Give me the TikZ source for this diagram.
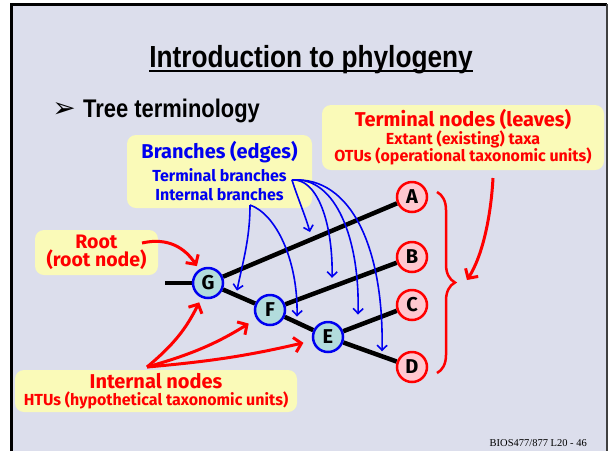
\documentclass[tikz,border=0pt]{standalone}
\usepackage{fontspec}
\setmainfont{Fira Sans}
\newfontfamily\condfont[FakeStretch=0.86]{Liberation Sans}
\newfontfamily\footfont{Liberation Serif}
\newfontfamily\symfont{DejaVu Sans}
\usetikzlibrary{arrows.meta, positioning, calc, backgrounds, decorations.pathreplacing}
\definecolor{SlideLavender}{HTML}{DCDEEC}
\definecolor{NoteYellow}{HTML}{FAFAB8}
\definecolor{NoteRed}{HTML}{FF0000}
\definecolor{NoteBlue}{HTML}{0000F0}
\definecolor{LeafPink}{HTML}{FFC8D0}
\definecolor{HtuTeal}{HTML}{B2DCDC}
\newcommand{\bignote}{\fontsize{20}{20}\selectfont}
\newcommand{\tightnote}{\lineskiplimit-20pt\relax}
\tikzset{
    % Boxes and texts
    notebox/.style={
        rectangle,
        rounded corners=9pt,
        fill=NoteYellow,
        draw=none,
        inner sep=0pt,
        align=center
    },
    rednote/.style={notebox, text=NoteRed},
    bluenote/.style={notebox, text=NoteBlue},
    % Tree nodes
    leafnode/.style={
        circle,
        draw=NoteRed,
        fill=LeafPink,
        line width=2.5pt,
        minimum size=30pt,
        inner sep=0pt,
        font=\bfseries\fontsize{20}{20}\selectfont
    },
    htunode/.style={
        circle,
        draw=NoteBlue,
        fill=HtuTeal,
        line width=2.5pt,
        minimum size=30pt,
        inner sep=0pt,
        font=\bfseries\fontsize{20}{20}\selectfont
    },
    % Lines and arrows
    treeedge/.style={line width=4.5pt, black},
    redarrow/.style={
        -{Straight Barb[length=7pt,width=15pt]},
        NoteRed,
        line width=3pt
    },
    bluearrow/.style={
        -{Straight Barb[length=5pt,width=10pt]},
        NoteBlue,
        line width=1.6pt
    },
    leafbrace/.style={
        decorate,
        decoration={brace, amplitude=18pt},
        NoteRed,
        line width=2.5pt
    }
}
\begin{document}
\begin{tikzpicture}[x=1pt, y=-1pt]
\useasboundingbox (0,0) rectangle (610,451);

% Title and heading
\node[anchor=base, inner sep=0pt, font=\condfont\bfseries\fontsize{30.5}{30.5}\selectfont] (title) at (311,67) {Introduction to phylogeny};
\draw[line width=2pt] ([yshift=-4pt]title.base west) -- ([yshift=-4pt]title.base east);
\node[anchor=base west, inner sep=0pt, font=\condfont\bfseries\fontsize{25.5}{25.5}\selectfont] (heading) at (83,117) {Tree terminology};
\node[left=7pt of heading, inner sep=0pt, font=\symfont\fontsize{28}{28}\selectfont] (bullet) {➢};

% Tree
\node[htunode] (G) at (208,283) {G};
\node[htunode] (F) at (270,310) {F};
\node[htunode] (E) at (328,337) {E};
\node[leafnode] (A) at (412,197) {A};
\node[leafnode] (B) at (412,257) {B};
\node[leafnode] (C) at (412,305) {C};
\node[leafnode] (D) at (412,367) {D};
\coordinate (stub) at (165,283);

\begin{scope}[on background layer]
    \fill[SlideLavender] (11,4) rectangle (608,451);
    \draw[line width=3pt] (11,451) -- (11,4) -- (607,4);
    \draw[line width=2pt, black!75] (607,4) -- (607,451);
    \draw[treeedge] (stub) -- (G);
    \draw[treeedge] (G) -- (A);
    \draw[treeedge] (G) -- (F);
    \draw[treeedge] (F) -- (B);
    \draw[treeedge] (F) -- (E);
    \draw[treeedge] (E) -- (C);
    \draw[treeedge] (E) -- (D);
\end{scope}

% Terminal nodes
\node[rednote, minimum width=282pt, minimum height=65pt,
      font=\bfseries\fontsize{16}{17.5}\selectfont\tightnote] (leafbox) at (463,137.5)
    {{\bignote Terminal nodes (leaves)}\\ Extant (existing) taxa\\ OTUs (operational taxonomic units)};
\coordinate (leaffoot) at (493,178);
\coordinate (bracetip) at (467,280);
\draw[leafbrace] (437,192) -- (437,373);
\draw[redarrow] (leaffoot) .. controls (491,215) and (483,255) .. (bracetip);

% Branches
\node[bluenote, minimum width=185pt, minimum height=73pt,
      font=\bfseries\fontsize{16}{19}\selectfont\tightnote] (branchbox) at (219.5,171.5)
    {{\bignote Branches (edges)}\\[4pt] Terminal branches\\ Internal branches};
\coordinate (termfoot) at (292,180);
\coordinate (intfoot) at (250,205);
\coordinate (ga) at ($(G)!0.5!(A)+(0,-8)$);
\coordinate (fb) at ($(F)!0.437!(B)+(0,-9)$);
\coordinate (ec) at ($(E)!0.357!(C)+(0,-11)$);
\coordinate (ed) at ($(E)!0.643!(D)+(0,-5)$);
\coordinate (gf) at ($(G)!0.468!(F)+(0,-5)$);
\coordinate (fe) at ($(F)!0.466!(E)+(0,-6)$);
\draw[bluearrow] (termfoot) .. controls (297,196) and (305,215) .. (ga);
\draw[bluearrow] (termfoot) .. controls (318,178) and (333,225) .. (fb);
\draw[bluearrow] (termfoot) .. controls (336,176) and (360,240) .. (ec);
\draw[bluearrow] (termfoot) .. controls (352,176) and (384,250) .. (ed);
\draw[bluearrow] (intfoot) .. controls (250,240) and (242,265) .. (gf);
\draw[bluearrow] (intfoot) .. controls (276,214) and (298,260) .. (fe);

% Root
\node[rednote, minimum width=123pt, minimum height=45pt,
      font=\bfseries\fontsize{19.5}{18}\selectfont\tightnote] (rootbox) at (96.5,252.5)
    {Root\\ (root node)};
\coordinate (rootfoot) at (142,243);
\draw[redarrow, shorten >=4pt] (rootfoot) .. controls (168,237) and (185,248) .. (G);

% Internal nodes
\node[rednote, minimum width=282pt, minimum height=42pt,
      font=\bfseries\fontsize{16}{17}\selectfont\tightnote] (htubox) at (156,391)
    {{\bignote Internal nodes}\\ HTUs (hypothetical taxonomic units)};
\coordinate (htufoot) at (147,367);
\draw[redarrow, shorten >=5pt] (htufoot) to[bend right=12] (G);
\draw[redarrow, shorten >=9pt] (htufoot) to[bend right=8] (F);
\draw[redarrow, shorten >=9pt] (htufoot) to[bend right=4] (E);

% Footer
\node[anchor=east, inner sep=0pt, font=\footfont\fontsize{10.5}{10.5}\selectfont] (footer) at (587,443) {BIOS477/877 L20 - 46};
\end{tikzpicture}
\end{document}
